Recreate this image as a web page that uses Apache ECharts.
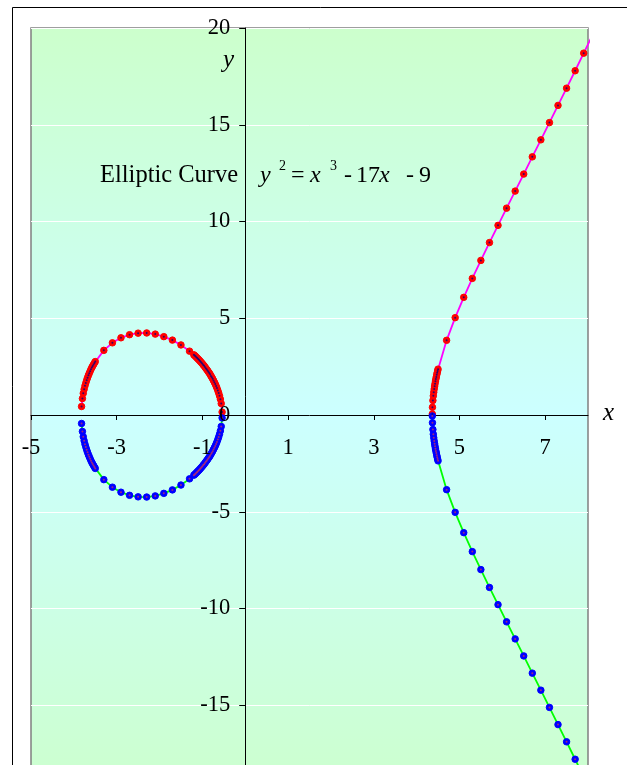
<!DOCTYPE html>
<html>
<head>
<meta charset="utf-8">
<script src="https://cdn.jsdelivr.net/npm/echarts@6/dist/echarts.min.js"></script>
<style>
  html, body { margin: 0; padding: 0; background: #fff; }
  #chart { width: 627px; height: 765px; }
</style>
</head>
<body>
<div id="chart"></div>
<script>
// oval part of the curve (upper half)
const ovalX = [-3.82, -3.80, -3.78, -3.76, -3.74, -3.72, -3.70, -3.68, -3.66, -3.64, -3.62, -3.60,
  -3.58, -3.56, -3.54, -3.52, -3.5, -3.3, -3.1, -2.9, -2.7, -2.5, -2.3, -2.1, -1.9, -1.7, -1.5, -1.3,
  -1.20, -1.18, -1.16, -1.14, -1.12, -1.10, -1.08, -1.06, -1.04, -1.02, -1.00, -0.98, -0.96, -0.94,
  -0.92, -0.90, -0.88, -0.86, -0.84, -0.82, -0.80, -0.78, -0.76, -0.74, -0.72, -0.70, -0.68, -0.66,
  -0.64, -0.62, -0.60, -0.58, -0.56, -0.54];
const ovalY = [0.44, 0.85, 1.12, 1.33, 1.51, 1.66, 1.80, 1.93, 2.05, 2.16, 2.26, 2.36,
  2.45, 2.53, 2.61, 2.69, 2.76, 3.34, 3.73, 3.99, 4.15, 4.23, 4.24, 4.18, 4.05, 3.87, 3.62, 3.30,
  3.11, 3.07, 3.03, 2.98, 2.94, 2.89, 2.85, 2.80, 2.75, 2.70, 2.65, 2.59, 2.54, 2.48,
  2.42, 2.36, 2.30, 2.23, 2.17, 2.10, 2.02, 1.95, 1.87, 1.78, 1.69, 1.60, 1.50, 1.39,
  1.27, 1.14, 0.99, 0.82, 0.59, 0.15];

// right-hand branch (upper half)
const branchX = [4.366, 4.37, 4.38, 4.39, 4.40, 4.41, 4.42, 4.43, 4.44, 4.45, 4.46, 4.47, 4.48, 4.49, 4.50,
  4.7, 4.9, 5.1, 5.3, 5.5, 5.7, 5.9, 6.1, 6.3, 6.5, 6.7, 6.9, 7.1, 7.3, 7.5, 7.7, 7.9, 8.1];
const branchY = [0.05, 0.40, 0.75, 0.99, 1.18, 1.34, 1.49, 1.62, 1.75, 1.86, 1.97, 2.08, 2.18, 2.28, 2.37,
  3.86, 5.03, 6.08, 7.06, 7.99, 8.91, 9.80, 10.69, 11.57, 12.45, 13.34, 14.22, 15.11, 16.00, 16.89, 17.79, 18.70, 19.61];

const xTicks = [-5, -3, -1, 1, 3, 5, 7];
const yTicks = [-20, -15, -10, -5, 0, 5, 10, 15, 20];

const upperOval = ovalX.map((x, i) => [x, ovalY[i]]);
const lowerOval = ovalX.map((x, i) => [x, -ovalY[i]]);   // curve is symmetric about the x axis
const upperBranch = branchX.map((x, i) => [x, branchY[i]]);
const lowerBranch = branchX.map((x, i) => [x, -branchY[i]]);

const serif = 'Liberation Serif, Times New Roman, serif';

const chart = echarts.init(document.getElementById('chart'), null, { renderer: 'canvas' });

// hide markers that fall outside the plot (line still runs to them)
function markSize(v) {
  return v[0] > 8 ? 0 : 6.5;
}

function curve(data, lineColor, markColor) {
  return {
    type: 'line',
    data: data,
    clip: false,
    symbol: 'circle',
    symbolSize: markSize,
    showAllSymbol: true,
    lineStyle: { color: lineColor, width: 1.8 },
    itemStyle: { color: markColor, borderColor: markColor, borderWidth: 1 },
    emphasis: { disabled: true },
    z: 3
  };
}

function dots(data, color) {
  return {
    type: 'scatter',
    data: data.filter(p => p[0] <= 8),
    symbol: 'circle',
    symbolSize: 2,
    itemStyle: { color: color },
    silent: true,
    z: 4
  };
}

// equation pieces: text, left, italic, superscript
const eqParts = [
  ['y', 260, true, false],
  ['2', 279, false, true],
  ['=', 291, false, false],
  ['x', 310, true, false],
  ['3', 330, false, true],
  ['-', 344, false, false],
  ['17', 356, false, false],
  ['x', 379, true, false],
  ['-', 406, false, false],
  ['9', 419, false, false]
];

const graphics = [
  {
    type: 'rect',
    shape: { x: 12.5, y: 7.5, width: 700, height: 800 },
    style: { fill: 'none', stroke: '#000', lineWidth: 1 },
    silent: true,
    z: 0
  },
  {
    type: 'text', x: 100, y: 176,
    style: { text: 'Elliptic Curve', font: '24.5px ' + serif, fill: '#000', verticalAlign: 'middle' },
    z: 10
  },
  {
    type: 'text', x: 603, y: 413,
    style: { text: 'x', font: 'italic 25px ' + serif, fill: '#000', verticalAlign: 'middle' },
    z: 10
  },
  {
    type: 'text', x: 223, y: 60,
    style: { text: 'y', font: 'italic 25px ' + serif, fill: '#000', verticalAlign: 'middle' },
    z: 10
  }
];
eqParts.forEach(p => {
  graphics.push({
    type: 'text',
    x: p[1],
    y: p[3] ? 166 : 176,
    style: {
      text: p[0],
      font: (p[2] ? 'italic ' : '') + (p[3] ? '14px ' : '24px ') + serif,
      fill: '#000',
      verticalAlign: 'middle'
    },
    z: 10
  });
});

const option = {
  animation: false,
  backgroundColor: '#fff',
  grid: {
    left: 31,
    top: 28,
    right: 39,
    bottom: -37,
    outerBoundsMode: 'none',
    show: true,
    borderColor: '#808080',
    borderWidth: 1.5,
    backgroundColor: {
      type: 'linear', x: 0, y: 0, x2: 0, y2: 1,
      colorStops: [
        { offset: 0, color: '#ccffcc' },
        { offset: 0.5, color: '#ccffff' },
        { offset: 1, color: '#ccffcc' }
      ]
    }
  },
  xAxis: {
    type: 'value',
    min: -5,
    max: 8,
    axisLine: { onZero: true, lineStyle: { color: '#000', width: 1 } },
    axisTick: { show: true, length: 5, inside: false, customValues: xTicks, lineStyle: { color: '#000' } },
    axisLabel: { show: false },
    splitLine: { show: false }
  },
  yAxis: {
    type: 'value',
    min: -20,
    max: 20,
    interval: 5,
    axisLine: { onZero: true, lineStyle: { color: '#000', width: 1 } },
    axisTick: { show: true, length: 6, inside: false, customValues: yTicks, lineStyle: { color: '#000' } },
    axisLabel: { show: false },
    splitLine: { show: true, lineStyle: { color: '#ffffff', width: 1 } }
  },
  series: [
    curve(upperOval, '#ff00ff', '#ff0000'),
    curve(upperBranch, '#ff00ff', '#ff0000'),
    curve(lowerOval, '#00ff00', '#0000ff'),
    curve(lowerBranch, '#00ff00', '#0000ff'),
    dots(upperOval.concat(upperBranch), '#000080'),
    dots(lowerOval.concat(lowerBranch), '#c03060')
  ],
  graphic: graphics
};

chart.setOption(option);

// tick labels sit next to the axes that cross at the origin
const tickLabels = [];
xTicks.forEach(v => {
  const p = chart.convertToPixel({ gridIndex: 0 }, [v, 0]);
  tickLabels.push({
    type: 'text', x: p[0], y: p[1] + 22, z: 10,
    style: { text: String(v), font: '22.5px ' + serif, fill: '#000', align: 'center', verticalAlign: 'top' }
  });
});
yTicks.forEach(v => {
  const p = chart.convertToPixel({ gridIndex: 0 }, [0, v]);
  tickLabels.push({
    type: 'text', x: p[0] - 15, y: p[1], z: 10,
    style: { text: String(v), font: '22.5px ' + serif, fill: '#000', align: 'right', verticalAlign: 'middle' }
  });
});
chart.setOption({ graphic: graphics.concat(tickLabels) });
</script>
</body>
</html>
